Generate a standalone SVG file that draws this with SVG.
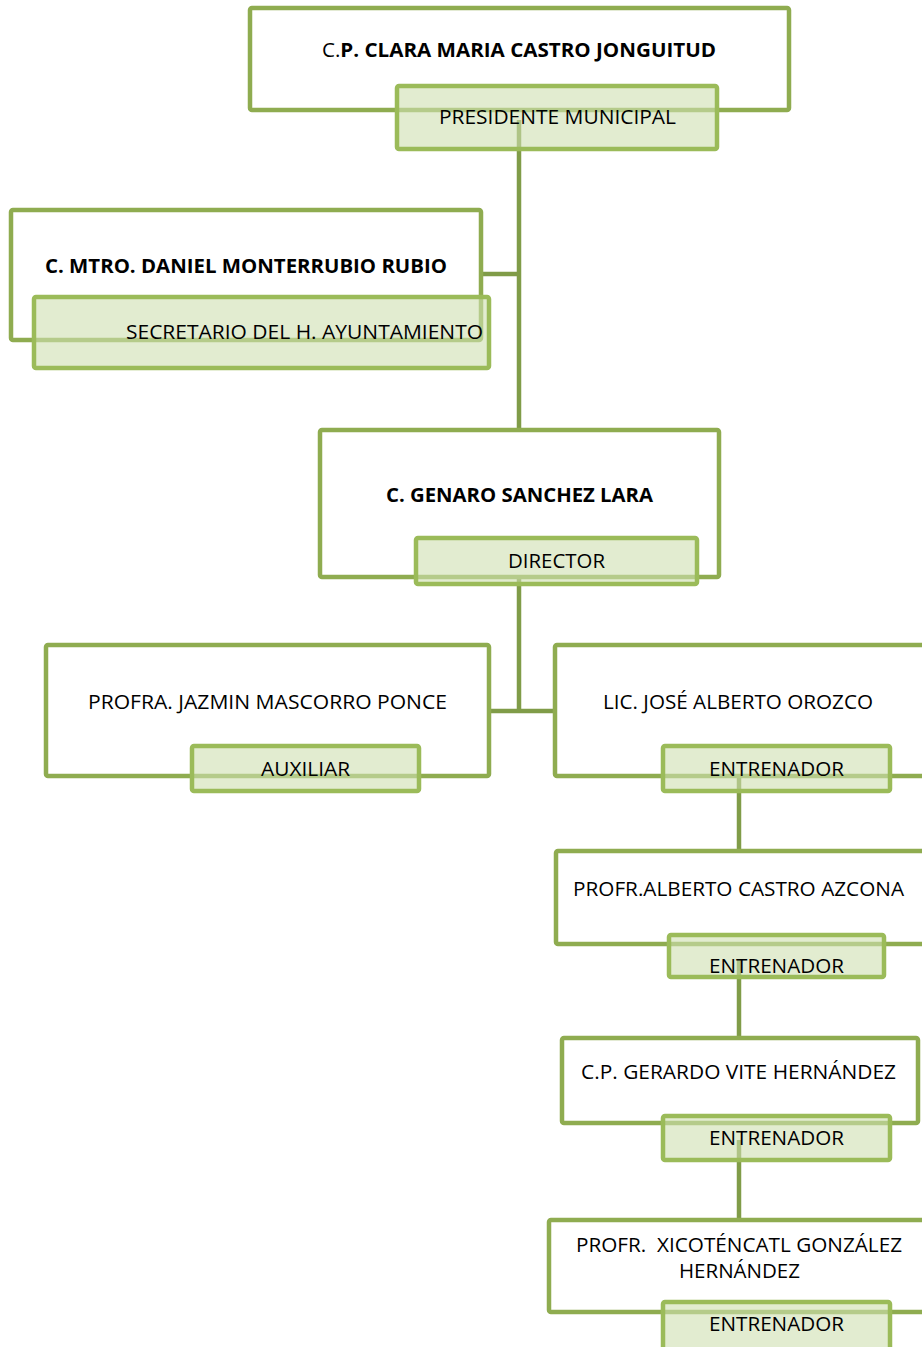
<svg xmlns="http://www.w3.org/2000/svg" width="922" height="1347" viewBox="0 0 922 1347">
<style>
.outer{fill:#ffffff;stroke:#8fac50;stroke-width:4.5}
.lab{fill:#cfdfb0;fill-opacity:0.6;stroke:#9bbb59;stroke-width:4.5}
.con{stroke:#809c48;stroke-width:4.5;fill:none}
text{font-family:"Open Sans","Liberation Sans",Arial,sans-serif;font-size:19.5px;fill:#000}
.b{font-weight:bold}
</style>
<rect width="922" height="1347" fill="#ffffff"/>
<g id="connectors">
<path class="con" d="M519 120 V430 M482 274 H519"/>
<path class="con" d="M519 575 V711 M490 711 H555"/>
<path class="con" d="M739 775 V851"/>
<path class="con" d="M739 960 V1038"/>
<path class="con" d="M739 1140 V1220"/>
</g>
<g id="node-presidente">
<rect class="outer" x="250" y="8" width="539" height="102" rx="2"/>
<rect class="lab" x="397" y="86" width="320" height="63" rx="2"/>
<text x="322" y="57" textLength="394" lengthAdjust="spacingAndGlyphs">C.<tspan class="b">P. CLARA MARIA CASTRO JONGUITUD</tspan></text>
<text x="439" y="124" textLength="237" lengthAdjust="spacingAndGlyphs">PRESIDENTE MUNICIPAL</text>
</g>
<g id="node-secretario">
<rect class="outer" x="11" y="210" width="470" height="130" rx="2"/>
<rect class="lab" x="34" y="297" width="455" height="71" rx="2"/>
<text class="b" x="45" y="273" textLength="402" lengthAdjust="spacingAndGlyphs">C. MTRO. DANIEL MONTERRUBIO RUBIO</text>
<text x="126" y="339" textLength="357" lengthAdjust="spacingAndGlyphs">SECRETARIO DEL H. AYUNTAMIENTO</text>
</g>
<g id="node-director">
<rect class="outer" x="320" y="430" width="399" height="147" rx="2"/>
<rect class="lab" x="416" y="538" width="281" height="46" rx="2"/>
<text class="b" x="386" y="502" textLength="267" lengthAdjust="spacingAndGlyphs">C. GENARO SANCHEZ LARA</text>
<text x="508" y="568" textLength="97" lengthAdjust="spacingAndGlyphs">DIRECTOR</text>
</g>
<g id="node-auxiliar">
<rect class="outer" x="46" y="645" width="443" height="131" rx="2"/>
<rect class="lab" x="192" y="746" width="227" height="45" rx="2"/>
<text x="88" y="709" textLength="359" lengthAdjust="spacingAndGlyphs">PROFRA. JAZMIN MASCORRO PONCE</text>
<text x="261" y="776" textLength="89" lengthAdjust="spacingAndGlyphs">AUXILIAR</text>
</g>
<g id="node-entrenador1">
<rect class="outer" x="555" y="645" width="372" height="131" rx="2"/>
<rect class="lab" x="663" y="746" width="227" height="45" rx="2"/>
<text x="603" y="709" textLength="270" lengthAdjust="spacingAndGlyphs">LIC. JOSÉ ALBERTO OROZCO</text>
<text x="709" y="776" textLength="135" lengthAdjust="spacingAndGlyphs">ENTRENADOR</text>
</g>
<g id="node-entrenador2">
<rect class="outer" x="556" y="851" width="371" height="93" rx="2"/>
<rect class="lab" x="669" y="935" width="215" height="42" rx="2"/>
<text x="573" y="896" textLength="331" lengthAdjust="spacingAndGlyphs">PROFR.ALBERTO CASTRO AZCONA</text>
<text x="709" y="973" textLength="135" lengthAdjust="spacingAndGlyphs">ENTRENADOR</text>
</g>
<g id="node-entrenador3">
<rect class="outer" x="562" y="1038" width="356" height="85" rx="2"/>
<rect class="lab" x="663" y="1116" width="227" height="44" rx="2"/>
<text x="581" y="1079" textLength="315" lengthAdjust="spacingAndGlyphs">C.P. GERARDO VITE HERNÁNDEZ</text>
<text x="709" y="1145" textLength="135" lengthAdjust="spacingAndGlyphs">ENTRENADOR</text>
</g>
<g id="node-entrenador4">
<rect class="outer" x="549" y="1220" width="378" height="92" rx="2"/>
<rect class="lab" x="663" y="1302" width="227" height="50" rx="2"/>
<text x="576" y="1252" textLength="326" lengthAdjust="spacingAndGlyphs" xml:space="preserve">PROFR.  XICOTÉNCATL GONZÁLEZ</text>
<text x="679" y="1278" textLength="121" lengthAdjust="spacingAndGlyphs">HERNÁNDEZ</text>
<text x="709" y="1331" textLength="135" lengthAdjust="spacingAndGlyphs">ENTRENADOR</text>
</g>
</svg>
